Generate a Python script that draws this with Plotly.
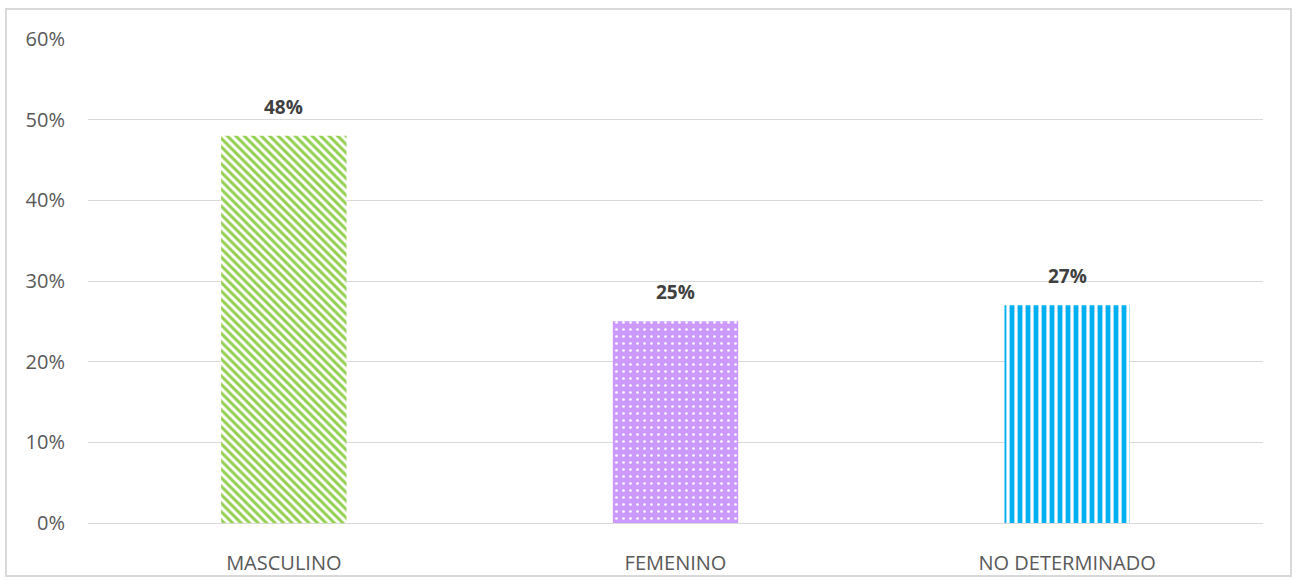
import plotly.graph_objects as go

categories = ["MASCULINO", "FEMENINO", "NO DETERMINADO"]
values = [0.48, 0.25, 0.27]
labels = ["48%", "25%", "27%"]
y_ticks = [0, 0.1, 0.2, 0.3, 0.4, 0.5, 0.6]

W, H = 1296, 580
ml, mr, mt, mb = 88, 33, 39, 57
pw, ph = W - ml - mr, H - mt - mb

fig = go.Figure()
styles = [
    dict(color="#92D050", pattern=dict(shape="\\", fgcolor="#92D050", bgcolor="white", fillmode="replace", size=6, solidity=0.5)),
    dict(color="#CC99FF", pattern=dict(shape=".", fgcolor="white", bgcolor="#CC99FF", fillmode="replace", size=7, solidity=0.12)),
    dict(color="#00B0F0", pattern=dict(shape="|", fgcolor="#00B0F0", bgcolor="white", fillmode="replace", size=8, solidity=0.6)),
]
for c, v, st in zip(categories, values, styles):
    fig.add_trace(go.Bar(
        x=[c], y=[v],
        marker=dict(color=st["color"], pattern=st["pattern"], line=dict(width=0)),
        width=0.32, showlegend=False, hoverinfo="x+y",
    ))

for c, v, lab in zip(categories, values, labels):
    fig.add_annotation(x=c, y=v, text="<b>" + lab + "</b>", showarrow=False,
                       yanchor="bottom", yshift=14,
                       font=dict(family="Open Sans", size=19, color="#404040"))

fig.update_layout(
    width=W, height=H,
    margin=dict(l=ml, r=mr, t=mt, b=mb, autoexpand=False),
    paper_bgcolor="white", plot_bgcolor="white",
    font=dict(family="Open Sans", size=20, color="#595959"),
    xaxis=dict(showgrid=False, showline=False, tickfont=dict(size=20, color="#595959"),
               ticks="", ticklabelstandoff=26, automargin=False),
    yaxis=dict(range=[0, 0.6], tickvals=y_ticks, tickformat=".0%", showgrid=True,
               gridcolor="#D9D9D9", gridwidth=1, zeroline=True, zerolinecolor="#D9D9D9",
               zerolinewidth=1, showline=False, ticks="", ticklabelstandoff=22,
               tickfont=dict(size=20, color="#595959"), automargin=False),
    bargap=0.68,
    shapes=[dict(type="rect", xref="paper", yref="paper",
                 x0=(6 - ml) / pw, x1=(1291 - ml) / pw,
                 y0=(H - mb - 576) / ph, y1=(H - mb - 9) / ph,
                 line=dict(color="#D9D9D9", width=2), fillcolor="rgba(0,0,0,0)", layer="below")],
)
fig.write_html("out.html", config={"displayModeBar": False},
               post_script="document.body.style.margin='0';document.body.style.overflow='hidden';")
